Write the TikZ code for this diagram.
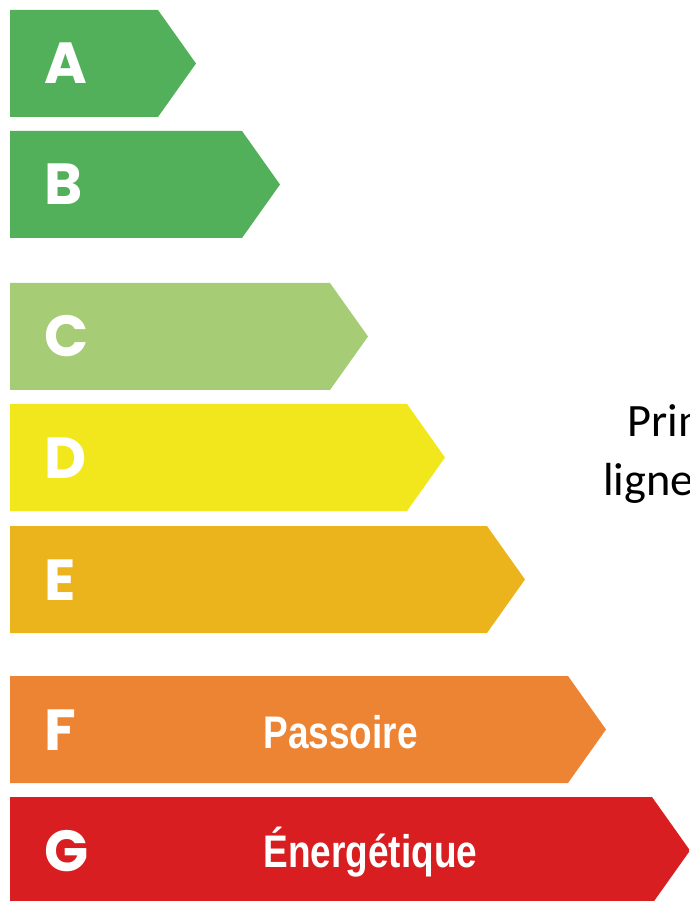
\documentclass[tikz,border=0pt]{standalone}
\usepackage{fontspec}
\usepackage{graphicx}
\setmainfont{Carlito}
\newfontfamily\gradefont{Poppins}
\newfontfamily\tagfont{Liberation Sans}

\definecolor{classA}{RGB}{82,176,90}
\definecolor{classC}{RGB}{166,204,118}
\definecolor{classD}{RGB}{242,230,28}
\definecolor{classE}{RGB}{236,180,28}
\definecolor{classF}{RGB}{236,132,52}
\definecolor{classG}{RGB}{216,30,32}

\begin{document}
\begin{tikzpicture}[x = 0.02 cm, y = -0.02 cm,
	grade/.style = {anchor = base west, inner sep = 0, text = white, font = \gradefont\bfseries\fontsize{33}{33}\selectfont},
	tag/.style = {anchor = base west, inner sep = 0, text = white, font = \tagfont\bfseries\fontsize{26}{26}\selectfont},
	note/.style = {anchor = base west, inner sep = 0, font = \fontsize{26.4}{26.4}\selectfont}]

	\useasboundingbox (0, 0) rectangle (689, 901);
	\clip (0, 0) rectangle (689, 901);

	% Bars + letters

	\foreach \name/\ytop/\flat/\col in {A/10/158/classA, B/131/242/classA, C/283/330/classC, D/404/407/classD, E/526/487/classE, F/676/568/classF, G/797/652/classG} {
		\fill [\col] (10, \ytop) -- (\flat, \ytop) -- ({\flat + 38}, {\ytop + 53.5}) -- (\flat, {\ytop + 107}) -- (10, {\ytop + 107}) -- cycle;
		\node [grade] (grade\name) at (44, {\ytop + 74}) {\name};
	}

	% Labels on F and G

	\node [tag] (passoire) at (263, 748) {\scalebox{0.81}[1]{Passoire}};
	\node [tag] (energetique) at (263, 867) {\scalebox{0.81}[1]{Énergétique}};

	% Side text

	\node [note] (prin) at (627, 437) {Prin};
	\node [note] (ligne) at (603, 495) {ligne};

\end{tikzpicture}
\end{document}
